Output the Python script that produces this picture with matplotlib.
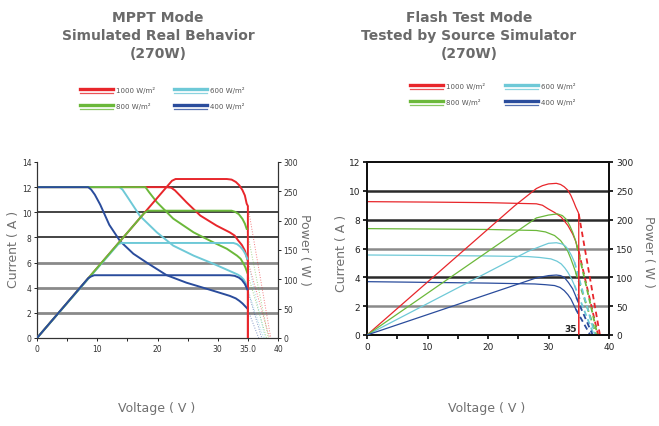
import matplotlib
matplotlib.use("Agg")
import matplotlib.pyplot as plt
from matplotlib.lines import Line2D

W, H = 659, 427
RED, GREEN, CYAN, BLUE = '#e8262b', '#6bb83a', '#6ec9d7', '#2a4c9c'
GRAY = '#707070'

labels = ['1000', '600', '800', '400']
colors = [RED, CYAN, GREEN, BLUE]

# ---- MPPT mode (left) : current (A) and power (W) vs voltage
mppt_iv = {
    '400': ([0, 8.5, 9.0, 9.6, 10.5, 12, 13.8, 16, 18.2, 21.5, 24.8, 29.3, 32, 33, 33.6, 34.1, 34.5, 34.9],
            [12, 12, 11.8, 11.4, 10.6, 9.0, 7.7, 6.7, 6.0, 5.0, 4.4, 3.75, 3.35, 3.15, 2.95, 2.75, 2.55, 2.35]),
    '600': ([0, 13.7, 14.2, 14.9, 17.1, 19.9, 22.6, 26, 29.3, 32.6, 33.3, 33.8, 34.3, 34.6, 34.9],
            [12, 12, 11.8, 11.3, 9.7, 8.4, 7.35, 6.55, 5.9, 5.2, 5.05, 4.9, 4.65, 4.4, 4.0]),
    '800': ([0, 18, 18.6, 19.9, 22.6, 26, 29.3, 31.5, 33.2, 33.8, 34.3, 34.6, 34.9],
            [12, 12, 11.6, 10.8, 9.5, 8.4, 7.6, 7.1, 6.55, 6.3, 5.9, 5.6, 5.2]),
    '1000': ([0, 21.5, 22.3, 22.9, 23.8, 24.8, 27.1, 29.8, 32, 32.8, 33.4, 34, 34.5, 34.9, 35, 35],
             [12, 12, 11.95, 11.74, 11.3, 10.8, 9.74, 8.94, 8.4, 8.15, 7.75, 7.4, 6.95, 6.3, 6.1, 0]),
}
mppt_p = {
    '400': ([0, 8.5, 9.0, 9.5, 32, 32.8, 33.5, 34, 34.5, 34.9],
            [0, 102, 105, 107, 107, 106, 103, 99, 92, 83]),
    '600': ([0, 13.5, 14.0, 32.6, 33.2, 33.7, 34.2, 34.6, 34.9],
            [0, 160, 162, 162, 160, 156, 150, 143, 135]),
    '800': ([0, 17.8, 18.4, 32.3, 32.9, 33.5, 34.1, 34.5, 34.8],
            [0, 213, 217, 217, 215, 211, 203, 195, 186]),
    '1000': ([0, 22.4, 23.0, 31.5, 32.3, 33, 33.6, 34.1, 34.5, 34.8, 35, 35],
             [0, 268, 271, 271, 270, 266, 260, 252, 243, 229, 225, 0]),
}
# open circuit voltages of the dotted tails (IV, P)
mppt_voc = {'400': (36.8, 37.3), '600': (37.6, 37.85), '800': (38.1, 38.4), '1000': (38.6, 38.8)}

# ---- Flash test mode (right)
flash_iv = {
    '400': ([0, 10, 20, 27.7, 29.5, 31, 31.9, 32.6, 33.2, 33.7, 34.1, 34.5],
            [3.7, 3.65, 3.6, 3.54, 3.49, 3.43, 3.3, 3.08, 2.8, 2.5, 2.15, 1.8]),
    '600': ([0, 10, 20, 26.6, 28.5, 30.4, 31.4, 32.1, 32.7, 33.2, 33.8, 34.3],
            [5.55, 5.52, 5.48, 5.44, 5.38, 5.28, 5.12, 4.93, 4.65, 4.35, 3.9, 3.43]),
    '800': ([0, 10, 20, 28, 29.5, 31, 32, 32.6, 33.2, 33.7, 34.2, 34.5],
            [7.38, 7.35, 7.32, 7.25, 7.15, 6.9, 6.55, 6.2, 5.8, 5.28, 4.7, 4.35]),
    '1000': ([0, 10, 20, 28, 29, 29.9, 31, 32.1, 33.2, 34, 34.5, 34.8, 35, 35],
             [9.25, 9.22, 9.18, 9.1, 9.0, 8.76, 8.5, 8.18, 7.6, 7.0, 6.5, 5.98, 5.8, 0]),
}
flash_p = {
    '400': ([0, 27.7, 29, 30, 31.3, 32, 32.6, 33.3, 34, 34.6],
            [0, 98, 101, 103, 104, 103, 100, 91, 80, 65]),
    '600': ([0, 26.6, 28.5, 30, 31.3, 32.2, 32.8, 33.2, 33.8, 34.3],
            [0, 145, 153, 159, 160, 158, 154, 149, 138, 126]),
    '800': ([0, 28, 30, 31.5, 32.3, 32.9, 33.5, 34, 34.4, 34.7],
            [0, 203, 208, 210, 207, 201, 190, 178, 166, 155]),
    '1000': ([0, 24.4, 28, 29, 30, 31.3, 32, 32.6, 33.2, 33.7, 34.2, 34.5, 34.9, 35, 35],
             [0, 224, 254, 259, 262, 263, 261, 257, 251, 242, 230, 222, 213, 210, 0]),
}
flash_voc = {'400': (36.9, 37.3), '600': (37.5, 37.7), '800': (37.9, 38.1), '1000': (38.2, 38.5)}


def px(x, y):
    return x / W, 1 - y / H


def tail(v, y, lab):
    # last point before the vertical drop (red) or the last point
    k = -2 if lab == '1000' else -1
    return v[k], y[k]


fig = plt.figure(figsize=(W / 100, H / 100), dpi=100)

# ================= left chart
ax = fig.add_axes([37 / W, 1 - 339 / H, 241 / W, 176 / H])
ax2 = ax.twinx()
for y in [2, 4, 6]:
    ax.axhline(y, color='#8a8a8a', lw=2.0, zorder=1)
for y in [8, 10, 12]:
    ax.axhline(y, color='#111111', lw=1.1, zorder=1)
for lab, c in zip(labels, colors):
    v, i = mppt_iv[lab]
    ax.plot(v, i, color=c, lw=1.4, zorder=3)
    x0, y0 = tail(v, i, lab)
    ax.plot([x0, mppt_voc[lab][0]], [y0, 0], color=c, lw=0.7, ls=':', alpha=0.6)
    v, p = mppt_p[lab]
    ax2.plot(v, p, color=c, lw=1.4, zorder=3)
    x0, y0 = tail(v, p, lab)
    ax2.plot([x0, mppt_voc[lab][1]], [y0, 0], color=c, lw=0.7, ls=':', alpha=0.6)
ax.set_xlim(0, 40)
ax.set_ylim(0, 14)
ax2.set_ylim(0, 300)
ax.set_xticks([0, 10, 20, 30, 35, 40])
ax.set_xticklabels(['0', '10', '20', '30', '35.0', '40'])
ax.set_xticks([5, 15, 25], minor=True)
ax.set_yticks(range(0, 15, 2))
ax2.set_yticks(range(0, 301, 50))
for a in (ax, ax2):
    a.tick_params(which='both', direction='out', length=2, width=0.6, labelsize=5.5,
                  labelcolor='#333333', pad=2)
    a.spines['top'].set_visible(False)
    for s in ('left', 'right', 'bottom'):
        a.spines[s].set_linewidth(0.8)
        a.spines[s].set_color('#333333')

# ================= right chart
bx = fig.add_axes([367 / W, 1 - 336 / H, 242 / W, 173 / H])
bx2 = bx.twinx()
for y in [2, 6]:
    bx.axhline(y, color='#8a8a8a', lw=1.8, zorder=1)
for y in [4, 8, 10]:
    bx.axhline(y, color='#2a2a2a', lw=1.8, zorder=1)
for lab, c in zip(labels, colors):
    v, i = flash_iv[lab]
    bx.plot(v, i, color=c, lw=0.9, zorder=3)
    x0, y0 = tail(v, i, lab)
    bx.plot([x0, flash_voc[lab][0]], [y0, 0], color=c, lw=1.3, ls=(0, (3, 2)))
    v, p = flash_p[lab]
    bx2.plot(v, p, color=c, lw=0.9, zorder=3)
    x0, y0 = tail(v, p, lab)
    bx2.plot([x0, flash_voc[lab][1]], [y0, 0], color=c, lw=1.3, ls=(0, (3, 2)))
bx.set_xlim(0, 40)
bx.set_ylim(0, 12)
bx2.set_ylim(0, 300)
bx.set_xticks([0, 10, 20, 30, 40])
bx.set_xticks([5, 15, 25, 35], minor=True)
bx.set_yticks(range(0, 13, 2))
bx2.set_yticks(range(0, 301, 50))
bx.text(34.7, 0.15, '35', ha='right', va='bottom', fontsize=6.5, fontweight='bold', color='#222222')
for a in (bx, bx2):
    a.tick_params(which='both', direction='out', length=3, width=1.2, labelsize=6.5,
                  labelcolor='#222222', pad=2)
    for s in a.spines.values():
        s.set_linewidth(1.4)
        s.set_color('#111111')

# ================= titles, labels, legends
title_kw = dict(ha='center', va='top', fontsize=10, fontweight='bold', color='#6a6a6a',
                linespacing=1.35, multialignment='center')
fig.text(*px(158, 11), 'MPPT Mode\nSimulated Real Behavior\n(270W)', **title_kw)
fig.text(*px(469, 11), 'Flash Test Mode\nTested by Source Simulator\n(270W)', **title_kw)

lab_kw = dict(fontsize=9, color=GRAY, ha='center', va='center')
fig.text(*px(157, 409), 'Voltage ( V )', **lab_kw)
fig.text(*px(487, 409), 'Voltage ( V )', **lab_kw)
fig.text(*px(14, 249), 'Current ( A )', rotation=90, **lab_kw)
fig.text(*px(341, 253), 'Current ( A )', rotation=90, **lab_kw)
fig.text(*px(305, 250), 'Power ( W )', rotation=-90, **lab_kw)
fig.text(*px(649, 252), 'Power ( W )', rotation=-90, **lab_kw)


def legend(cols, rows):
    k = 0
    for r in rows:
        for cx in cols:
            c = colors[k]
            x0, y0 = px(cx, r)
            x1, y1 = px(cx + 33, r + 4)
            fig.add_artist(Line2D([x0, x1], [y0, y0], color=c, lw=2.4, transform=fig.transFigure))
            fig.add_artist(Line2D([x0, x1], [y1, y1], color=c, lw=0.9, alpha=0.8,
                                  transform=fig.transFigure))
            fig.text(*px(cx + 36, r + 1), labels[k] + ' W/m²', fontsize=5, color='#555555',
                     va='center', ha='left')
            k += 1


legend([80, 174], [90, 106])
legend([410, 505], [86, 102])

fig.savefig('out.png', dpi=100)
